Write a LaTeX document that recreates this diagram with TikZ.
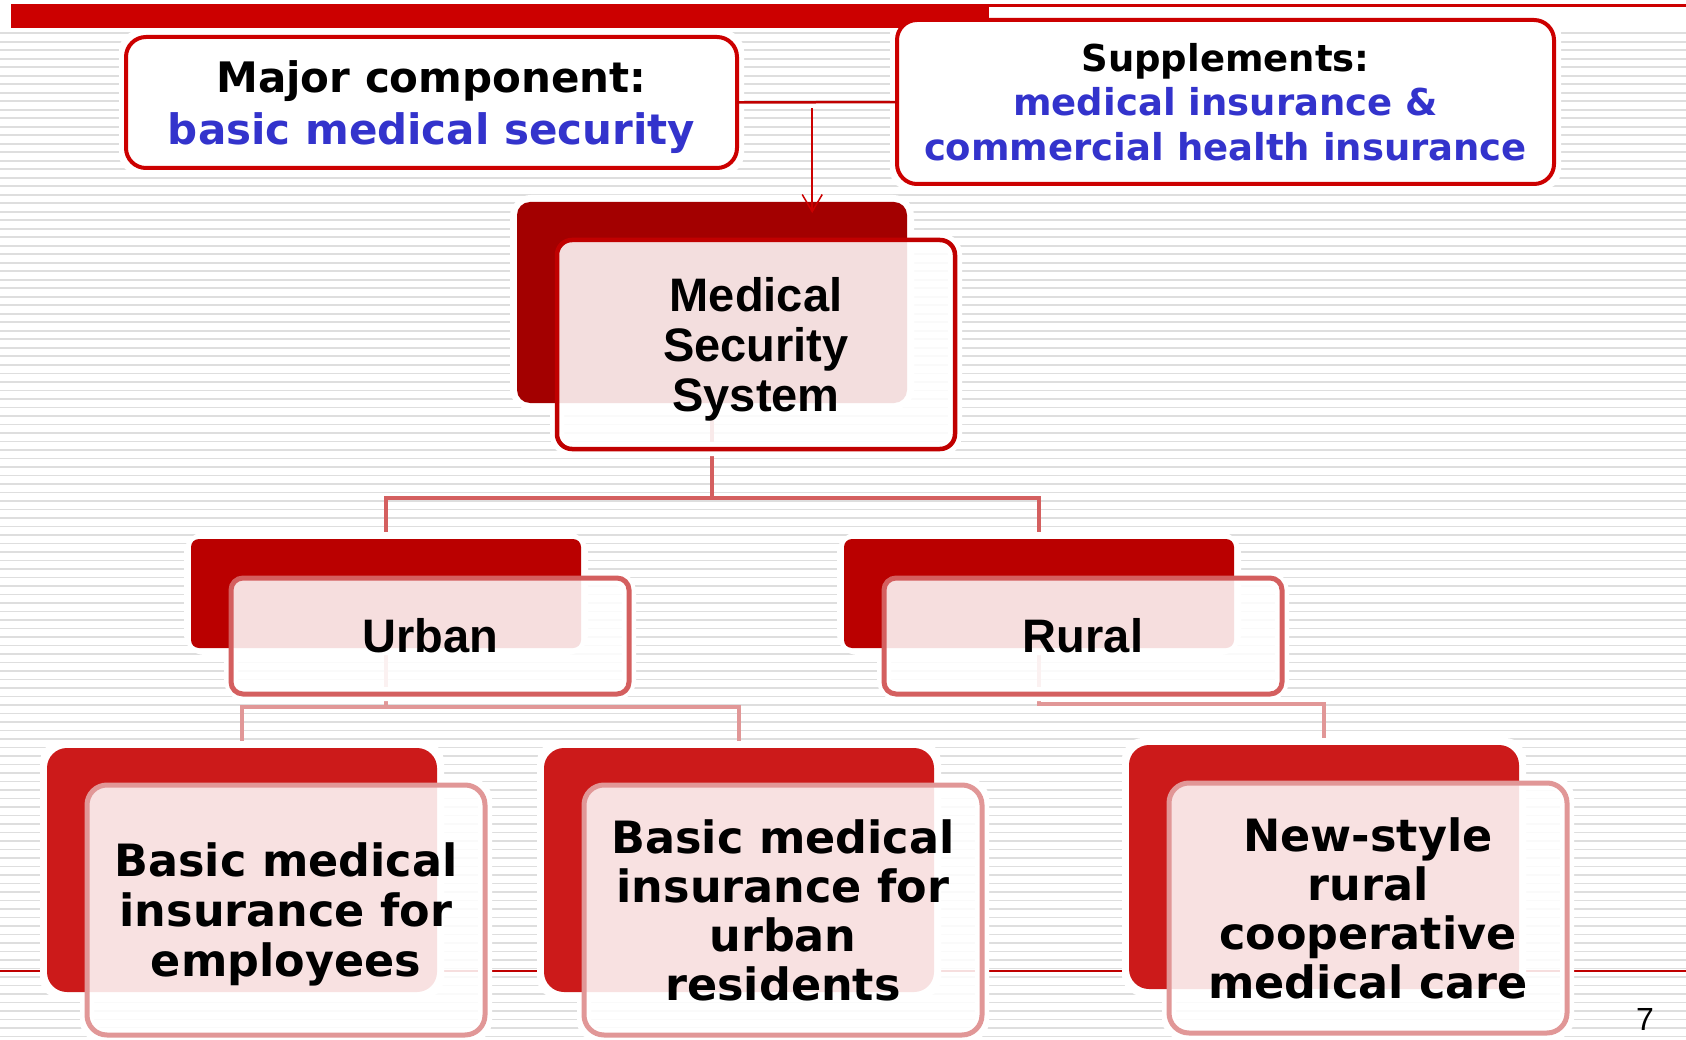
\documentclass[tikz,border=0pt]{standalone}
\usepackage{fontspec}
\usetikzlibrary{arrows.meta}
\newfontfamily\wideface{DejaVu Sans}
\newfontfamily\archface{Liberation Sans}

\definecolor{barred}{HTML}{CC0000}
\definecolor{rulered}{HTML}{C00000}
\definecolor{textblue}{HTML}{3333CC}
\definecolor{topback}{HTML}{A30000}
\definecolor{midback}{HTML}{BA0000}
\definecolor{lowback}{HTML}{CC1A1A}
\definecolor{midline}{HTML}{D45F5F}
\definecolor{lowline}{HTML}{E19797}

\pgfdeclarelayer{ground}
\pgfdeclarelayer{lines}
\pgfdeclarelayer{halo}
\pgfsetlayers{ground,lines,halo,main}

\tikzset{
  stripe/.style={draw=black!13, line width=1.6pt},
  halo/.style={draw=white, line width=14pt, rounded corners=14pt},
  topbox/.style={rectangle, draw=barred, line width=4pt, rounded corners=20pt, fill=white,
    inner sep=0pt, outer sep=0pt, align=center},
  backbox/.style={rectangle, anchor=north west, inner sep=0pt, outer sep=0pt, minimum width=390pt},
  frontbox/.style={rectangle, anchor=north west, inner sep=0pt, outer sep=0pt, minimum width=398pt,
    fill=white, fill opacity=0.87, text opacity=1, line width=5pt, align=center},
  link1/.style={draw=midline, line width=4pt},
  link2/.style={draw=lowline, line width=4pt},
  feed/.style={draw=barred, line width=1.5pt, -{Straight Barb[length=17pt,width=20pt]}}
}

\begin{document}
\begin{tikzpicture}[x=1pt, y=-1pt]
    \useasboundingbox (0,0) rectangle (1686,1040);

    % slide background
    \begin{pgfonlayer}{ground}
        \fill[white] (0,0) rectangle (1686,1040);
        \foreach \k in {3,...,121}
            \draw[stripe] (0,{7.8+8.5*\k}) -- (1686,{7.8+8.5*\k});
        \draw[rulered, line width=1.5pt] (0,971) -- (1686,971);
    \end{pgfonlayer}
    \fill[barred] (11,4) rectangle (989,28);
    \fill[barred] (989,4) rectangle (1686,7);

    % top notes
    \node[topbox, minimum width=611pt, minimum height=131pt, text depth=0pt,
          font=\wideface\bfseries\fontsize{42}{52}\selectfont] (major) at (431.5,102.5)
          {Major component:\\\textcolor{textblue}{basic medical security}};
    \node[topbox, minimum width=657pt, minimum height=164pt,
          font=\wideface\bfseries\fontsize{37}{44.5}\selectfont] (supp) at (1225.5,102)
          {Supplements:\\\textcolor{textblue}{medical insurance \&}\\\textcolor{textblue}{commercial health insurance}};
    \draw[rulered, line width=2.5pt] (major.east) -- coordinate[pos=0.47] (join) (supp.west);

    % level 0
    \node[backbox, fill=topback, rounded corners=13pt, minimum height=201pt] (mssback) at (517,202) {};
    \node[frontbox, draw=rulered, line width=4.5pt, rounded corners=15pt, minimum height=209pt, text depth=0pt,
          font=\archface\bfseries\fontsize{47}{50}\selectfont] (mss) at (557,240)
          {Medical\\Security\\System};
    \draw[feed, shorten <=6pt, shorten >=-11pt] (join) -- (join |- mssback.north);

    % level 1
    \node[backbox, fill=midback, rounded corners=8pt, minimum height=109pt] (urbanback) at (191,539) {};
    \node[frontbox, draw=midline, rounded corners=12pt, minimum height=116pt,
          font=\archface\bfseries\fontsize{47}{49}\selectfont] (urban) at (231,578) {Urban};
    \node[backbox, fill=midback, rounded corners=8pt, minimum height=109pt] (ruralback) at (844,539) {};
    \node[frontbox, draw=midline, rounded corners=12pt, minimum height=116pt,
          font=\archface\bfseries\fontsize{47}{49}\selectfont] (rural) at (884,578) {Rural};

    % level 2
    \node[backbox, fill=lowback, rounded corners=20pt, minimum height=244pt] (empback) at (47,748) {};
    \node[frontbox, draw=lowline, rounded corners=20pt, minimum height=250pt, text depth=0pt,
          font=\wideface\bfseries\fontsize{44.5}{50}\selectfont] (emp) at (87,785)
          {Basic medical\\insurance for\\employees};
    \node[backbox, fill=lowback, rounded corners=20pt, minimum height=244pt] (resback) at (544,748) {};
    \node[frontbox, draw=lowline, rounded corners=20pt, minimum height=250pt,
          font=\wideface\bfseries\fontsize{44.5}{49}\selectfont] (res) at (584,785)
          {Basic medical\\insurance for\\urban\\residents};
    \node[backbox, fill=lowback, rounded corners=20pt, minimum height=244pt] (coopback) at (1129,745) {};
    \node[frontbox, draw=lowline, rounded corners=20pt, minimum height=250pt,
          font=\wideface\bfseries\fontsize{44.5}{49}\selectfont] (coop) at (1169,783)
          {New-style\\rural\\cooperative\\medical care};

    \node[font=\archface\fontsize{32}{33}\selectfont] (pagenum) at (1645,1019) {7};

    % connectors
    \begin{pgfonlayer}{lines}
        \draw[link1] (mssback.south) -- ++(0,95) coordinate (mssfork);
        \draw[link1] (urbanback.north) |- (mssfork) -| (ruralback.north);
        \draw[link2] (urbanback.south) -- ++(0,59) coordinate (urbanfork);
        \draw[link2] (empback.north) |- (urbanfork) -| (resback.north);
        \draw[link2] (ruralback.south) -- ++(0,56) -| (coopback.north);
    \end{pgfonlayer}

    % white margins round the boxes
    \begin{pgfonlayer}{halo}
        \foreach \n in {major,supp,mssback,mss,urbanback,urban,ruralback,rural,empback,emp,resback,res,coopback,coop}
            \draw[halo] (\n.north west) rectangle (\n.south east);
    \end{pgfonlayer}
\end{tikzpicture}
\end{document}
